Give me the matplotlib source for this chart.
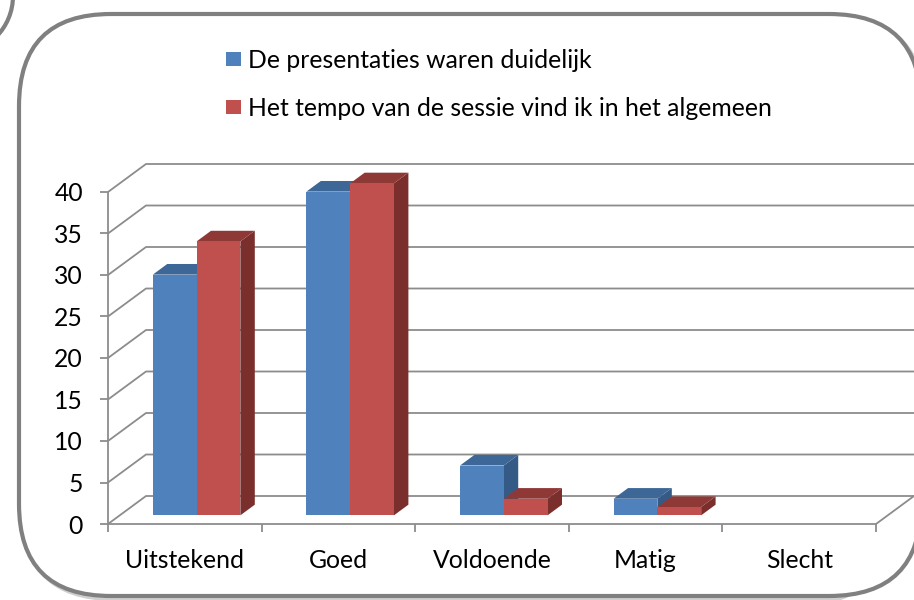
import numpy as np
import matplotlib
matplotlib.use("Agg")
import matplotlib.pyplot as plt
from matplotlib.patches import Polygon, FancyBboxPatch, Circle, Rectangle

# --- Data ---------------------------------------------------------------------
categories = ["Uitstekend", "Goed", "Voldoende", "Matig", "Slecht"]
series_names = ["De presentaties waren duidelijk",
                "Het tempo van de sessie vind ik in het algemeen"]
duidelijk = [29, 39, 6, 2, 0]
tempo = [33, 40, 2, 1, 0]
y_ticks = [0, 5, 10, 15, 20, 25, 30, 35, 40]

front_colors = ["#4F81BD", "#C0504D"]
top_colors = ["#3C6797", "#8F3937"]
side_colors = ["#355A86", "#7A2F2D"]
grid_color = "#8C8C8C"
frame_color = "#808080"
FONT = "Lato"
FS = 17.8

W, H = 914, 600
fig = plt.figure(figsize=(W / 100, H / 100), dpi=100)

# --- background frame (pixel coordinates) --------------------------------------
bg = fig.add_axes([0, 0, 1, 1])
bg.set_xlim(0, W)
bg.set_ylim(H, 0)
bg.axis("off")
shadow = FancyBboxPatch((22, 17), 902, 582, boxstyle="round,pad=0,rounding_size=92",
                        fc="none", ec="#CFCFCF", lw=3.0)
bg.add_patch(shadow)
frame = FancyBboxPatch((19, 14), 902, 582, boxstyle="round,pad=0,rounding_size=92",
                       fc="white", ec=frame_color, lw=3.0)
bg.add_patch(frame)
bg.add_patch(Circle((-45, -4), 58, fc="none", ec=frame_color, lw=3.0))

# legend
for k, name in enumerate(series_names):
    yy = 52 + k * 48
    bg.add_patch(Rectangle((226, yy), 15, 14, fc=front_colors[k], ec="none"))
    bg.text(248, yy + 7, name, ha="left", va="center_baseline", fontsize=FS,
            family=FONT, color="black")

# --- chart (front plane of the 3D box) ----------------------------------------
ax = fig.add_axes([108 / W, (H - 524) / H, 768 / W, 332 / H])
ax.set_xlim(0, len(categories))
ax.set_ylim(0, 40)
ax.axis("off")

px_x = 768 / len(categories)
px_y = 332 / 40
DX, DY = 38 / px_x, 28 / px_y      # full depth of the box
gl = dict(color=grid_color, lw=1.3, clip_on=False, zorder=1, solid_capstyle="butt")

n = len(categories)
for v in y_ticks:
    ax.plot([0, DX, n + DX], [v, v + DY, v + DY], **gl)
    ax.plot([-8 / px_x, 0], [v, v], **gl)
    ax.text(-25 / px_x, v, str(v), ha="right", va="center_baseline",
            fontsize=FS, family=FONT, clip_on=False)
ax.plot([0, 0], [0, 40], **gl)
ax.plot([0, n, n + DX], [0, 0, DY], **gl)
for i in range(n + 1):
    ax.plot([i, i], [0, -8 / px_y], **gl)
for i, cat in enumerate(categories):
    ax.text(i + 0.5, -34 / px_y, cat, ha="center", va="center_baseline",
            fontsize=FS, family=FONT, clip_on=False)

# bars
BW = 0.285
f0, f1 = 0.31, 0.69
bdx, bdy = (f1 - f0) * DX, (f1 - f0) * DY
base = f0 * DY
for i in range(n):
    for s, vals in enumerate([duidelijk, tempo]):
        h = vals[i]
        if h == 0:
            continue
        x0 = i + 0.5 - BW + s * BW + f0 * DX
        x1 = x0 + BW
        side = Polygon([(x1, base), (x1, base + h), (x1 + bdx, base + h + bdy),
                        (x1 + bdx, base + bdy)], closed=True, fc=side_colors[s],
                       ec="none", clip_on=False, zorder=3)
        top = Polygon([(x0, base + h), (x1, base + h), (x1 + bdx, base + h + bdy),
                       (x0 + bdx, base + h + bdy)], closed=True, fc=top_colors[s],
                      ec="none", clip_on=False, zorder=3)
        ax.add_patch(side)
        ax.add_patch(top)
        ax.bar(x0, h, width=BW, bottom=base, align="edge", color=front_colors[s],
               edgecolor="none", clip_on=False, zorder=3)

fig.savefig("out.png", dpi=100)
